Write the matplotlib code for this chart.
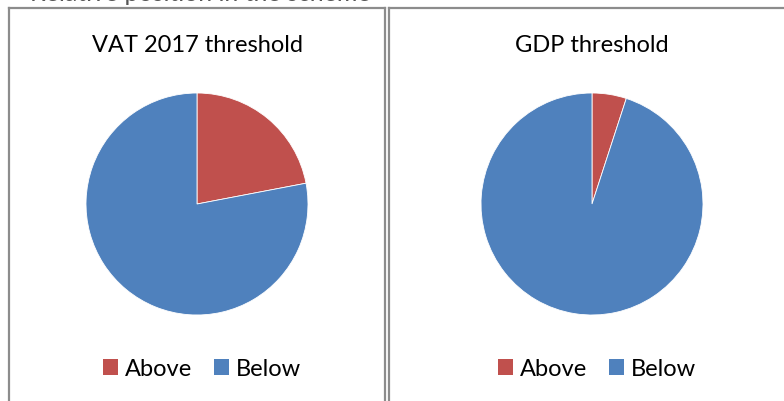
import matplotlib.pyplot as plt
from matplotlib.lines import Line2D
from matplotlib.patches import Patch

# shares of cases above / below each threshold (%)
labels = ['Above', 'Below']
vat_2017 = [22, 78]
gdp = [5, 95]
colors = ['#C0504D', '#4F81BD']

W, H = 784, 401
fig = plt.figure(figsize=(W / 100, H / 100), dpi=100)
plt.rcParams['font.family'] = ['Lato', 'DejaVu Sans']


def px_axes(cx, cy, r):
    # axes box in pixel units (origin top-left), converted to figure fractions
    return fig.add_axes([(cx - r) / W, (H - cy - r) / H, 2 * r / W, 2 * r / H])


def panel_border(x0, x1, top=7.5):
    kw = dict(color='#8c8c8c', lw=1.6, transform=fig.transFigure)
    fig.add_artist(Line2D([x0 / W, x0 / W], [0, 1 - top / H], **kw))
    fig.add_artist(Line2D([x0 / W, x1 / W], [1 - top / H, 1 - top / H], **kw))
    if x1 < W:
        fig.add_artist(Line2D([x1 / W, x1 / W], [0, 1 - top / H], **kw))


panels = [
    ('VAT 2017 threshold', vat_2017, 197, 8.5, 385),
    ('GDP threshold', gdp, 592, 388.5, W + 5),
]

for title, values, cx, x0, x1 in panels:
    panel_border(x0, x1)
    ax = px_axes(cx, 204, 111)
    ax.pie(values, colors=colors, startangle=90, counterclock=False,
           wedgeprops=dict(edgecolor='white', linewidth=0.6))
    ax.set_xlim(-1, 1)
    ax.set_ylim(-1, 1)
    fig.text(cx / W, 1 - 46 / H, title, ha='center', va='center', fontsize=17)
    handles = [Patch(facecolor=c, label=l) for c, l in zip(colors, labels)]
    fig.legend(handles=handles, loc='center',
               bbox_to_anchor=((cx + 5) / W, 1 - 369 / H),
               ncol=2, frameon=False, fontsize=17, handlelength=0.64, handleheight=0.64,
               handletextpad=0.3, columnspacing=0.9)

# heading of the page above, mostly cut off by the top edge
fig.text(30 / W, 1 - 0.8 / H, 'Relative position in the scheme', ha='left',
         va='baseline', fontsize=18, color='#555555')

fig.savefig('out.png', dpi=100)
